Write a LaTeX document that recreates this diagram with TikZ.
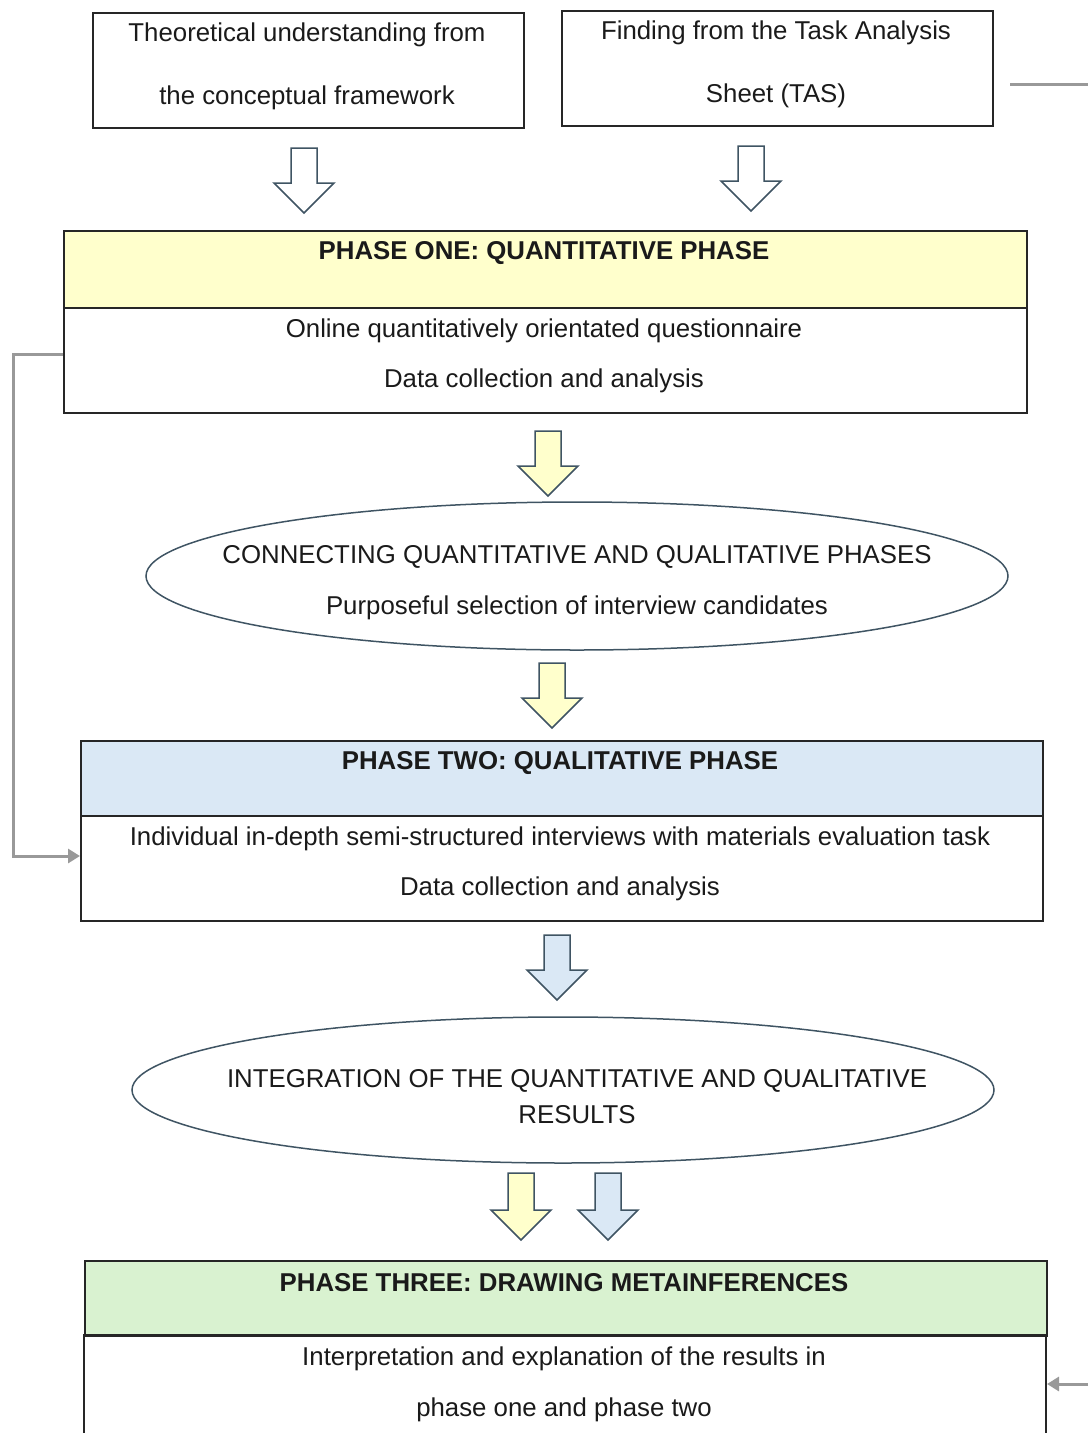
\documentclass[tikz,border=0pt]{standalone}
\usepackage{fontspec}
\setmainfont{Liberation Sans}
\usetikzlibrary{shapes.geometric,arrows.meta}
\definecolor{hdryellow}{HTML}{FFFFCC}
\definecolor{hdrblue}{HTML}{DAE8F5}
\definecolor{hdrgreen}{HTML}{D9F2D0}
\definecolor{arrowedge}{HTML}{3F5463}
\definecolor{linkgrey}{HTML}{999999}
\definecolor{txt}{HTML}{1A1A1A}
\tikzset{
  txtnode/.style={inner sep=0pt, text=txt, font=\fontsize{25.8}{30}\selectfont},
  boldnode/.style={txtnode, font=\fontsize{25.8}{30}\selectfont\bfseries},
  boxline/.style={draw=black!85, line width=1.6pt},
  link/.style={draw=linkgrey, line width=3pt},
  linkarrow/.style={link, -{Triangle[length=12pt,width=14pt]}},
  fatarrow/.style={draw=arrowedge, line width=1.5pt, line join=miter},
}
% hollow down arrow: centre x, top y, tip y, fill
\newcommand{\downarrowshape}[4]{%
  \draw[fatarrow, fill=#4] (#1-13,#2) -- (#1+13,#2) -- (#1+13,#3-30) -- (#1+30,#3-30)
    -- (#1,#3) -- (#1-30,#3-30) -- (#1-13,#3-30) -- cycle;}
\begin{document}
\begin{tikzpicture}[x=1pt,y=-1pt]
\useasboundingbox (0,0) rectangle (1088,1433);

% top boxes
\node[boxline, minimum width=431pt, minimum height=115pt, anchor=north west] (tbox) at (92,12) {};
\node[txtnode] (t1) at (307,35) {Theoretical understanding from};
\node[txtnode] (t2) at (307,98) {the conceptual framework};
\node[boxline, minimum width=431pt, minimum height=115pt, anchor=north west] (fbox) at (561,10) {};
\node[txtnode] (f1) at (776,33) {Finding from the Task Analysis};
\node[txtnode] (f2) at (776,96) {Sheet (TAS)};

\coordinate (topline) at (1010,84);
\coordinate (topend) at (1088,84);
\draw[link] (topline) -- (topend);

\downarrowshape{304}{148}{213}{white}
\downarrowshape{751}{146}{211}{white}

% phase one
\node[boxline, fill=hdryellow, minimum width=963pt, minimum height=77pt, anchor=north west] (p1h) at (63,230) {};
\node[boxline, minimum width=963pt, minimum height=105pt, anchor=north west] (p1b) at (63,307) {};
\node[boldnode] (p1t) at (544,253) {PHASE ONE: QUANTITATIVE PHASE};
\node[txtnode] (p1a) at (544,331) {Online quantitatively orientated questionnaire};
\node[txtnode] (p1c) at (544,381) {Data collection and analysis};

\downarrowshape{548}{431}{496}{hdryellow}

% ellipse 1
\node[draw=arrowedge, line width=1.5pt, ellipse, minimum width=862pt, minimum height=148pt, inner sep=0pt] (e1) at (577,576) {};
\node[txtnode] (e1a) at (577,557) {CONNECTING QUANTITATIVE AND QUALITATIVE PHASES};
\node[txtnode] (e1b) at (577,608) {Purposeful selection of interview candidates};

\downarrowshape{552}{663}{728}{hdryellow}

% phase two
\node[boxline, fill=hdrblue, minimum width=962pt, minimum height=75pt, anchor=north west] (p2h) at (80,740) {};
\node[boxline, minimum width=962pt, minimum height=105pt, anchor=north west] (p2b) at (80,815) {};
\node[boldnode] (p2t) at (560,763) {PHASE TWO: QUALITATIVE PHASE};
\node[txtnode] (p2a) at (560,839) {Individual in-depth semi-structured interviews with materials evaluation task};
\node[txtnode] (p2c) at (560,889) {Data collection and analysis};

\downarrowshape{557}{935}{1000}{hdrblue}

% ellipse 2
\node[draw=arrowedge, line width=1.5pt, ellipse, minimum width=862pt, minimum height=146pt, inner sep=0pt] (e2) at (563,1090) {};
\node[txtnode] (e2a) at (577,1081) {INTEGRATION OF THE QUANTITATIVE AND QUALITATIVE};
\node[txtnode] (e2b) at (577,1115) {RESULTS};

\downarrowshape{521}{1173}{1240}{hdryellow}
\downarrowshape{608}{1173}{1240}{hdrblue}

% phase three
\node[boxline, fill=hdrgreen, minimum width=962pt, minimum height=75pt, anchor=north west] (p3h) at (84,1260) {};
\draw[boxline] (84,1433) -- (84,1335) -- (1046,1335) -- (1046,1433);
\coordinate (p3l) at (84,1384);
\coordinate (p3r) at (1047,1384);
\node[boldnode] (p3t) at (564,1283) {PHASE THREE: DRAWING METAINFERENCES};
\node[txtnode] (p3a) at (564,1359) {Interpretation and explanation of the results in};
\node[txtnode] (p3c) at (564,1410) {phase one and phase two};

% left link
\coordinate (lstart) at (p1b.west |- 0,354);
\coordinate (lend) at (p2b.west |- 0,856);
\draw[linkarrow] (lstart) -- (13,354) -- (13,856) -- (lend);
% right incoming arrow
\coordinate (rin) at (1088,1384);
\draw[linkarrow] (rin) -- (p3r);
\end{tikzpicture}
\end{document}
